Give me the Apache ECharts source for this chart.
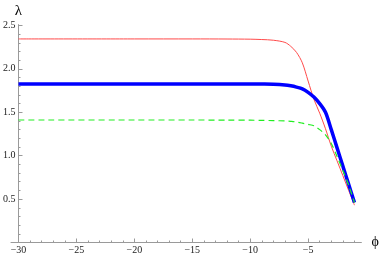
<!DOCTYPE html>
<html><head><meta charset="utf-8">
<script src="https://cdn.jsdelivr.net/npm/echarts@6/dist/echarts.min.js"></script>
<style>html,body{margin:0;padding:0;background:#fff}#c{width:382px;height:258px}</style>
</head><body><div id="c"></div>
<script>
const phi         = [-30,   -20,   -15,   -12,   -10,   -9,    -8,    -7,    -6.5,  -6,    -5.5,  -5,    -4.5,  -4,    -3.5,  -3,    -2.5,  -2,    -1.5,  -1];
const lambdaRed   = [2.345, 2.345, 2.345, 2.344, 2.342, 2.338, 2.330, 2.305, 2.260, 2.190, 2.070, 1.860, 1.650, 1.490, 1.310, 1.110, 0.940, 0.770, 0.600, 0.430];
const lambdaBlue  = [1.826, 1.826, 1.826, 1.826, 1.826, 1.825, 1.823, 1.815, 1.805, 1.790, 1.770, 1.730, 1.675, 1.600, 1.500, 1.300, 1.090, 0.880, 0.670, 0.460];
const lambdaGreen = [1.411, 1.411, 1.411, 1.410, 1.409, 1.407, 1.404, 1.400, 1.395, 1.388, 1.375, 1.360, 1.345, 1.300, 1.240, 1.140, 0.990, 0.830, 0.660, 0.460];
const xTickValues = [-30, -25, -20, -15, -10, -5];
const yTickValues = [0.5, 1.0, 1.5, 2.0, 2.5];

const chart = echarts.init(document.getElementById('c'), null, {renderer: 'canvas'});
const pairs = ys => phi.map((x, i) => [x, ys[i]]);
const axisColor = '#9a9a9a';
const font = 'Liberation Serif, serif';

chart.setOption({
  animation: false,
  grid: [
    {left: 18, right: 20.6, top: 24.6, bottom: 15.5},
    {left: 11, width: 7, top: 24.6, bottom: 15.5}
  ],
  xAxis: [
    {
      type: 'value', gridIndex: 0, min: -30, max: -0.4, interval: 5,
      axisLine: {show: true, onZero: false, lineStyle: {color: axisColor, width: 1}},
      axisTick: {show: true, inside: true, length: 4, customValues: xTickValues, lineStyle: {color: axisColor}},
      minorTick: {show: true, splitNumber: 5, length: 2, lineStyle: {color: axisColor}},
      axisLabel: {customValues: xTickValues, formatter: v => (v < 0 ? '\u2212' : '') + Math.abs(v),
        fontFamily: font, fontSize: 10, color: '#222', margin: 3},
      splitLine: {show: false},
      name: '\u03D5', nameLocation: 'end', nameGap: 10,
      nameTextStyle: {fontFamily: font, fontSize: 14, color: '#000', align: 'left', verticalAlign: 'middle', padding: [3, 0, 0, 0]}
    },
    {
      type: 'value', gridIndex: 1, min: -30.6, max: -30,
      axisLine: {show: true, onZero: false, lineStyle: {color: axisColor, width: 1}},
      axisTick: {show: false}, axisLabel: {show: false}, splitLine: {show: false}
    }
  ],
  yAxis: [
    {
      type: 'value', gridIndex: 0, min: 0, max: 2.51, interval: 0.5,
      axisLine: {show: true, onZero: false, lineStyle: {color: axisColor, width: 1}},
      axisTick: {show: true, inside: true, length: 4, customValues: yTickValues, lineStyle: {color: axisColor}},
      minorTick: {show: true, splitNumber: 5, length: 2, lineStyle: {color: axisColor}},
      axisLabel: {customValues: yTickValues, formatter: v => v.toFixed(1),
        fontFamily: font, fontSize: 10, color: '#222', margin: 3},
      splitLine: {show: false},
      name: '\u03BB', nameLocation: 'end', nameGap: 6,
      nameTextStyle: {fontFamily: font, fontSize: 15, color: '#000'}
    },
    {
      type: 'value', gridIndex: 1, min: 0, max: 2.51, show: false
    }
  ],
  series: [
    {type: 'line', xAxisIndex: 0, yAxisIndex: 0, data: pairs(lambdaRed), showSymbol: false,
      smooth: 0.3, lineStyle: {color: '#ff4a4a', width: 1}},
    {type: 'line', xAxisIndex: 0, yAxisIndex: 0, data: pairs(lambdaBlue), showSymbol: false,
      smooth: 0.3, lineStyle: {color: '#0000ff', width: 3.5}},
    {type: 'line', xAxisIndex: 0, yAxisIndex: 0, data: pairs(lambdaGreen), showSymbol: false,
      smooth: 0.3, lineStyle: {color: '#22ee22', width: 1.2, type: [6, 4]}}
  ]
});
</script></body></html>
